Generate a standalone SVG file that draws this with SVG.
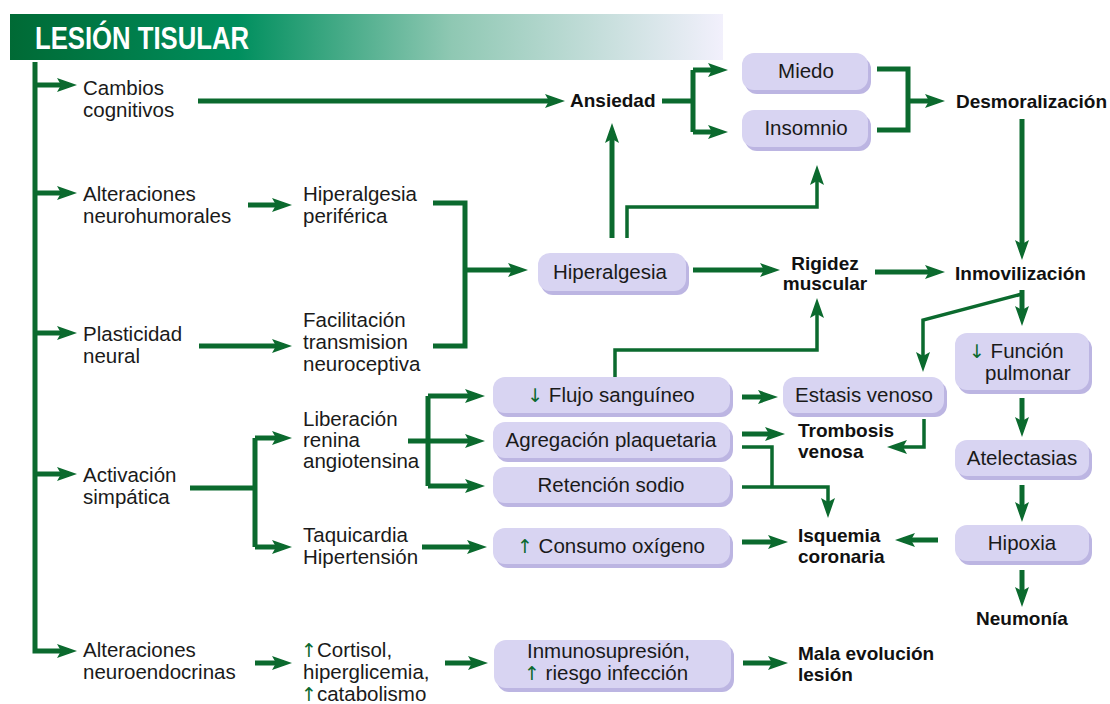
<svg xmlns="http://www.w3.org/2000/svg" width="1110" height="704" viewBox="0 0 1110 704">
<style>
.t{font-family:"Liberation Sans","DejaVu Sans",sans-serif;font-size:20.5px;fill:#1a1a1a}
.b{font-weight:bold;font-size:19px;fill:#111}
.c{text-anchor:middle}
.ar{fill:#0b6a2e;font-family:"DejaVu Sans",sans-serif;font-size:19px}
.ln{fill:none;stroke:#0b6a2e;stroke-width:5;stroke-linejoin:miter}
.thin{stroke-width:3.5}
.a{marker-end:url(#ah)}
.box{fill:#d8d4f2}
.sh{fill:#bcb5e2}
</style>
<defs>
<linearGradient id="hg" x1="10" y1="0" x2="723" y2="0" gradientUnits="userSpaceOnUse">
<stop offset="0" stop-color="#006a35"/>
<stop offset="0.32" stop-color="#008f5e"/>
<stop offset="0.62" stop-color="#8fc8b3"/>
<stop offset="1" stop-color="#f2f0fc"/>
</linearGradient>
<marker id="ah" markerUnits="userSpaceOnUse" markerWidth="22" markerHeight="16" refX="12" refY="8" orient="auto" overflow="visible">
<path d="M0,1 L20,8 L0,15 L4,8 z" fill="#0b6a2e"/>
</marker>
</defs>

<g id="header">
<rect x="10" y="14" width="713" height="46" fill="url(#hg)"/>
<text x="35" y="49" font-family="Liberation Sans,sans-serif" font-weight="bold" font-size="31" fill="#fff" textLength="214" lengthAdjust="spacingAndGlyphs">LESIÓN TISULAR</text>
</g>

<g id="connectors">
<path class="ln a" d="M35,62 V651 H69"/>
<path class="ln a" d="M35,85 H69"/>
<path class="ln a" d="M35,193 H69"/>
<path class="ln a" d="M35,333 H69"/>
<path class="ln a" d="M35,474 H69"/>
<path class="ln a" d="M198,101 H557"/>
<path class="ln" d="M662,101 H693 M693,70 V132"/>
<path class="ln a" d="M693,70 H720"/>
<path class="ln a" d="M693,132 H720"/>
<path class="ln" d="M877,69 H908 V130 H877"/>
<path class="ln a" d="M908,101 H937"/>
<path class="ln a" d="M1022,119 V252"/>
<path class="ln a" d="M1022,290 V318"/>
<path class="ln thin a" d="M1022,294 L923,320 V364"/>
<path class="ln a" d="M1022,398 V429"/>
<path class="ln a" d="M1022,485 V514"/>
<path class="ln a" d="M1022,570 V599"/>
<path class="ln a" d="M938,540 H903"/>
<path class="ln a" d="M875,272 H937"/>
<path class="ln a" d="M693,270 H772"/>
<path class="ln a" d="M612,238 V131"/>
<path class="ln thin a" d="M627,238 V207 H817 V173"/>
<path class="ln a" d="M248,205 H284"/>
<path class="ln" d="M433,203 H465 V346 H433"/>
<path class="ln a" d="M465,270 H520"/>
<path class="ln a" d="M199,346 H284"/>
<path class="ln" d="M190,488 H255 M255,438 V547"/>
<path class="ln a" d="M255,438 H284"/>
<path class="ln a" d="M255,547 H284"/>
<path class="ln" d="M408,441 H428 M428,396 V486"/>
<path class="ln a" d="M428,396 H477"/>
<path class="ln a" d="M428,441 H477"/>
<path class="ln a" d="M428,486 H477"/>
<path class="ln a" d="M742,397 H770"/>
<path class="ln a" d="M742,434 H777"/>
<path class="ln thin" d="M742,447 H772 V487"/>
<path class="ln thin a" d="M742,487 H828 V510"/>
<path class="ln thin a" d="M924,419 V447 H895"/>
<path class="ln thin a" d="M615,377 V350 H817 V306"/>
<path class="ln a" d="M422,547 H479"/>
<path class="ln a" d="M742,542 H780"/>
<path class="ln a" d="M255,663 H284"/>
<path class="ln a" d="M445,663 H480"/>
<path class="ln a" d="M743,663 H780"/>
</g>

<g id="cambios"><text class="t" x="83" y="95">Cambios</text><text class="t" x="83" y="117">cognitivos</text></g>
<g id="alt-neurohumorales"><text class="t" x="83" y="201">Alteraciones</text><text class="t" x="83" y="223">neurohumorales</text></g>
<g id="plasticidad"><text class="t" x="83" y="341">Plasticidad</text><text class="t" x="83" y="363">neural</text></g>
<g id="activacion"><text class="t" x="83" y="482">Activación</text><text class="t" x="83" y="504">simpática</text></g>
<g id="alt-neuroendocrinas"><text class="t" x="83" y="657">Alteraciones</text><text class="t" x="83" y="679">neuroendocrinas</text></g>

<g id="hiperalgesia-periferica"><text class="t" x="303" y="201">Hiperalgesia</text><text class="t" x="303" y="223">periférica</text></g>
<g id="facilitacion"><text class="t" x="303" y="327">Facilitación</text><text class="t" x="303" y="349">transmision</text><text class="t" x="303" y="371">neuroceptiva</text></g>
<g id="liberacion"><text class="t" x="303" y="426">Liberación</text><text class="t" x="303" y="447">renina</text><text class="t" x="303" y="468">angiotensina</text></g>
<g id="taquicardia"><text class="t" x="303" y="542">Taquicardia</text><text class="t" x="303" y="564">Hipertensión</text></g>
<g id="cortisol"><text class="t" x="301" y="657"><tspan class="ar">↑</tspan>Cortisol,</text><text class="t" x="303" y="679">hiperglicemia,</text><text class="t" x="301" y="701"><tspan class="ar">↑</tspan>catabolismo</text></g>

<g id="ansiedad"><text class="t b" x="570" y="107">Ansiedad</text></g>
<g id="miedo"><rect class="sh" x="745" y="57" width="126" height="37" rx="12"/><rect class="box" x="742" y="53" width="126" height="37" rx="12"/><text class="t c" x="806" y="78">Miedo</text></g>
<g id="insomnio"><rect class="sh" x="745" y="114" width="126" height="37" rx="12"/><rect class="box" x="742" y="110" width="126" height="37" rx="12"/><text class="t c" x="806" y="135">Insomnio</text></g>
<g id="desmoralizacion"><text class="t b" x="956" y="108">Desmoralización</text></g>
<g id="hiperalgesia"><rect class="sh" x="541" y="257" width="148" height="38" rx="12"/><rect class="box" x="538" y="253" width="148" height="38" rx="12"/><text class="t c" x="610" y="279">Hiperalgesia</text></g>
<g id="rigidez"><text class="t b c" x="825" y="270">Rigidez</text><text class="t b c" x="825" y="290">muscular</text></g>
<g id="inmovilizacion"><text class="t b" x="955" y="280">Inmovilización</text></g>

<g id="flujo"><rect class="sh" x="496" y="381" width="237" height="36" rx="12"/><rect class="box" x="493" y="377" width="237" height="36" rx="12"/><text class="t c" x="611" y="402"><tspan class="ar">↓</tspan> Flujo sanguíneo</text></g>
<g id="agregacion"><rect class="sh" x="496" y="426" width="237" height="36" rx="12"/><rect class="box" x="493" y="422" width="237" height="36" rx="12"/><text class="t c" x="611" y="447">Agregación plaquetaria</text></g>
<g id="retencion"><rect class="sh" x="496" y="471" width="237" height="36" rx="12"/><rect class="box" x="493" y="467" width="237" height="36" rx="12"/><text class="t c" x="611" y="492">Retención sodio</text></g>
<g id="consumo"><rect class="sh" x="496" y="532" width="237" height="36" rx="12"/><rect class="box" x="493" y="528" width="237" height="36" rx="12"/><text class="t c" x="611" y="553"><tspan class="ar">↑</tspan> Consumo oxígeno</text></g>
<g id="inmuno"><rect class="sh" x="497" y="644" width="237" height="48" rx="12"/><rect class="box" x="494" y="640" width="237" height="48" rx="12"/><text class="t" x="527" y="658">Inmunosupresión,</text><text class="t" x="524" y="680"><tspan class="ar">↑</tspan> riesgo infección</text></g>

<g id="estasis"><rect class="sh" x="786" y="381" width="161" height="36" rx="12"/><rect class="box" x="783" y="377" width="161" height="36" rx="12"/><text class="t c" x="864" y="402">Estasis venoso</text></g>
<g id="trombosis"><text class="t b" x="798" y="437">Trombosis</text><text class="t b" x="798" y="458">venosa</text></g>
<g id="isquemia"><text class="t b" x="798" y="542">Isquemia</text><text class="t b" x="798" y="563">coronaria</text></g>
<g id="mala-evolucion"><text class="t b" x="798" y="660">Mala evolución</text><text class="t b" x="798" y="681">lesión</text></g>

<g id="funcion"><rect class="sh" x="958" y="337" width="134" height="57" rx="12"/><rect class="box" x="955" y="333" width="134" height="57" rx="12"/><text class="t" x="969" y="358"><tspan class="ar">↓</tspan> Función</text><text class="t" x="985" y="380">pulmonar</text></g>
<g id="atelectasias"><rect class="sh" x="958" y="444" width="134" height="36" rx="12"/><rect class="box" x="955" y="440" width="134" height="36" rx="12"/><text class="t c" x="1022" y="465">Atelectasias</text></g>
<g id="hipoxia"><rect class="sh" x="958" y="529" width="134" height="36" rx="12"/><rect class="box" x="955" y="525" width="134" height="36" rx="12"/><text class="t c" x="1022" y="550">Hipoxia</text></g>
<g id="neumonia"><text class="t b c" x="1022" y="625">Neumonía</text></g>
</svg>
